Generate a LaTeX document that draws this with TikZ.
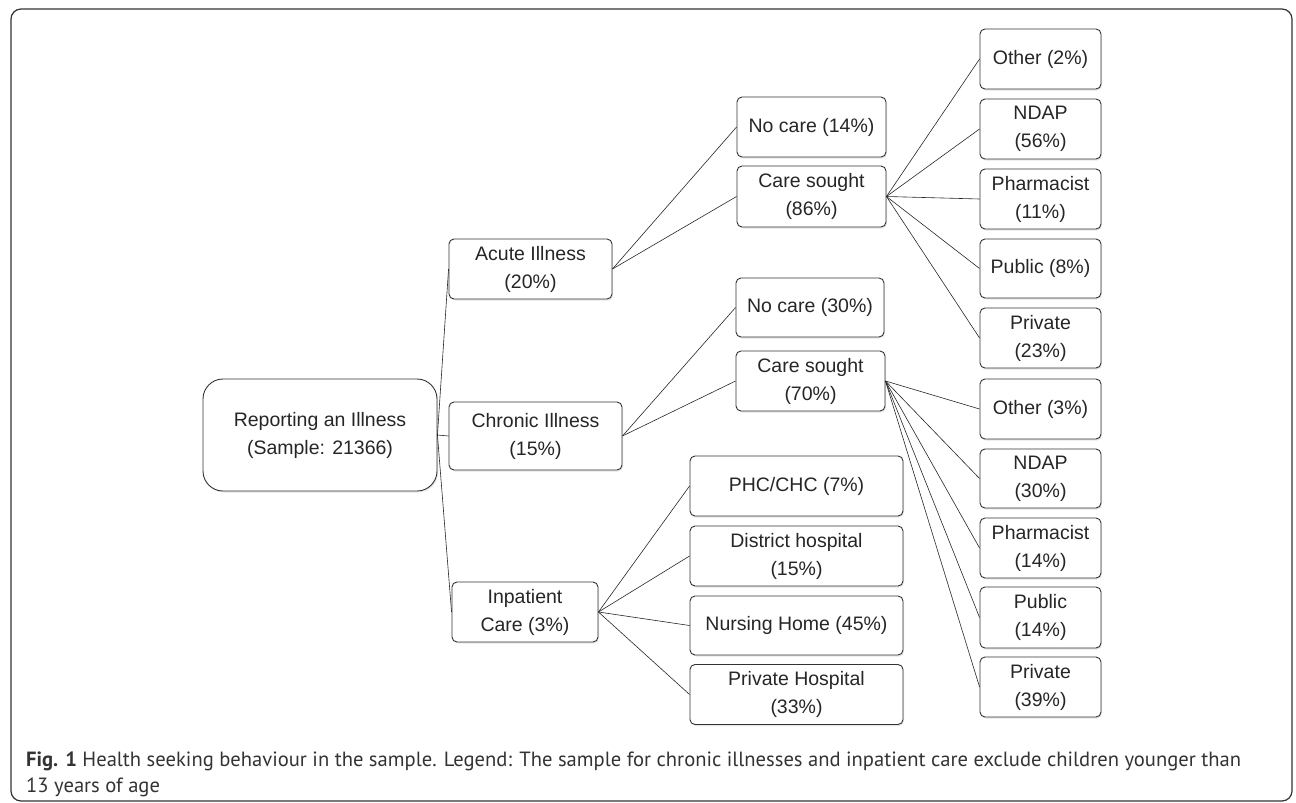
\documentclass[tikz,border=0pt]{standalone}
\usepackage{fontspec}
\setmainfont{Liberation Sans}
\newfontfamily\capfont{PT Sans}
\usetikzlibrary{shadows}
\tikzset{node distance=2cm, auto}

\begin{document}
\begin{tikzpicture}[x=1pt,y=-1pt]
\tikzset{
  box/.style={draw=black!80, line width=0.9pt, rounded corners=5pt, fill=white,
    align=center, inner sep=0pt, text=black!85, font=\fontsize{19.5}{28}\selectfont,
    drop shadow={shadow xshift=1pt, shadow yshift=-1.5pt, opacity=0.2}},
  size/.style 2 args={minimum width=#1pt, minimum height=#2pt},
  link/.style={black!85, line width=0.6pt}
}
\useasboundingbox (0,0) rectangle (1296,803);
\draw[black!80, line width=1.2pt, rounded corners=10pt] (11,9) rectangle (1292,801);

\node[box, rounded corners=20pt, size={234}{112}] (R) at (320,435) {Reporting an Illness\\(Sample: 21366)};

\node[box, size={163}{60}] (A) at (530.5,269) {Acute Illness\\(20\%)};
\node[box, size={173}{68}] (C) at (535.5,436) {Chronic Illness\\(15\%)};
\node[box, size={146}{60}] (I) at (525,612) {Inpatient\\Care (3\%)};

\node[box, size={149}{60}] (A1) at (811.5,127) {No care (14\%)};
\node[box, size={149}{61}] (A2) at (811.5,196.5) {Care sought\\(86\%)};
\node[box, size={148}{59}] (C1) at (810,307.5) {No care (30\%)};
\node[box, size={149}{60}] (C2) at (810.5,381) {Care sought\\(70\%)};

\node[box, size={213}{60}] (I1) at (796.5,486) {PHC/CHC (7\%)};
\node[box, size={213}{60}] (I2) at (796.5,556) {District hospital\\(15\%)};
\node[box, size={213}{59}] (I3) at (796.5,625.5) {Nursing Home (45\%)};
\node[box, size={213}{60}] (I4) at (796.5,694.5) {Private Hospital\\(33\%)};

\node[box, size={121}{60}] (A21) at (1040.5,59) {Other (2\%)};
\node[box, size={121}{60}] (A22) at (1040.5,129) {NDAP\\(56\%)};
\node[box, size={121}{60}] (A23) at (1040.5,199) {Pharmacist\\(11\%)};
\node[box, size={121}{59}] (A24) at (1040.5,268.5) {Public (8\%)};
\node[box, size={121}{60}] (A25) at (1040.5,338) {Private\\(23\%)};

\node[box, size={121}{60}] (C21) at (1040.5,409) {Other (3\%)};
\node[box, size={121}{59}] (C22) at (1040.5,478.5) {NDAP\\(30\%)};
\node[box, size={121}{60}] (C23) at (1040.5,548) {Pharmacist\\(14\%)};
\node[box, size={121}{61}] (C24) at (1040.5,617.5) {Public\\(14\%)};
\node[box, size={121}{60}] (C25) at (1040.5,687) {Private\\(39\%)};

\draw[link] (R.east) -- (A.west);
\draw[link] (R.east) -- (C.west);
\draw[link] (R.east) -- (I.west);

\draw[link] (A.east) -- (A1.west);
\draw[link] (A.east) -- (A2.west);
\draw[link] (C.east) -- (C1.west);
\draw[link] (C.east) -- (C2.west);

\draw[link] (I.east) -- (I1.west);
\draw[link] (I.east) -- (I2.west);
\draw[link] (I.east) -- (I3.west);
\draw[link] (I.east) -- (I4.west);

\draw[link] (A2.east) -- (A21.west);
\draw[link] (A2.east) -- (A22.west);
\draw[link] (A2.east) -- (A23.west);
\draw[link] (A2.east) -- (A24.west);
\draw[link] (A2.east) -- (A25.west);

\draw[link] (C2.east) -- (C21.west);
\draw[link] (C2.east) -- (C22.west);
\draw[link] (C2.east) -- (C23.west);
\draw[link] (C2.east) -- (C24.west);
\draw[link] (C2.east) -- (C25.west);

\node[anchor=base west, align=left, inner sep=0pt, text=black!80,
  font=\capfont\fontsize{20.6}{26}\selectfont] (cap) at (26,792)
  {\textbf{Fig. 1} Health seeking behaviour in the sample. Legend: The sample for chronic illnesses and inpatient care exclude children younger than\\13 years of age};
\end{tikzpicture}
\end{document}
